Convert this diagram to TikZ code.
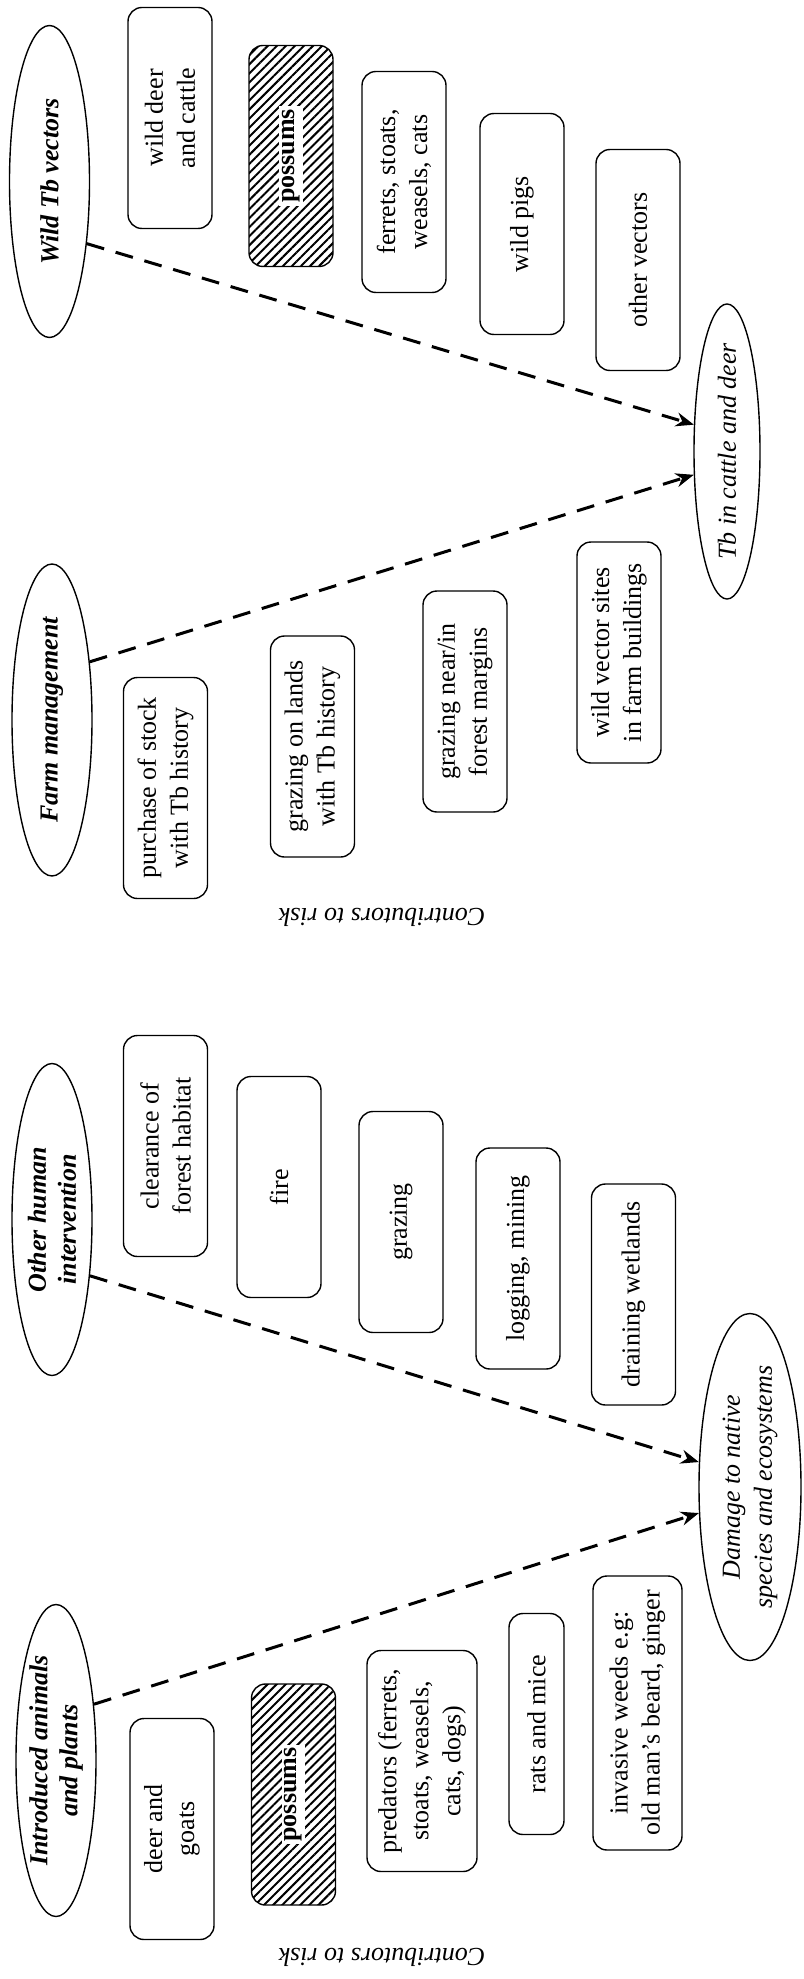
\documentclass[tikz,border=0pt]{standalone}
\usepackage{fontspec}
\setmainfont{Liberation Serif}
\usepackage{tikz}
\usetikzlibrary{shapes,arrows.meta,patterns.meta,positioning}
\setlength{\fboxsep}{1.5pt}

\begin{document}
\begin{tikzpicture}[x=0.5pt, y=-0.5pt,
    factor/.style={draw, line width=0.7pt, rounded corners=7pt, rotate=90,
        minimum width=110.5pt, minimum height=42pt, inner sep=2pt, align=center,
        font=\fontsize{13}{16}\selectfont},
    hatched/.style={factor, pattern={Lines[angle=45, distance=3.2pt, line width=1pt]}},
    cause/.style={draw, ellipse, line width=0.7pt, rotate=90, align=center,
        minimum width=156pt, minimum height=40pt, inner sep=0pt,
        font=\fontsize{13}{15}\selectfont\bfseries\itshape},
    effect/.style={cause, inner sep=-2pt, font=\fontsize{13}{16}\selectfont\itshape},
    risk/.style={-{Stealth[length=9pt, width=7pt]}, line width=1.5pt, dash pattern=on 9pt off 6pt},
    note/.style={rotate=180, font=\fontsize{13}{16}\selectfont\itshape}]

    \useasboundingbox (0,0) rectangle (803,1979);

    % Tb in cattle and deer
    \node[cause] (wildtb) at (49.5,181.5) {Wild Tb vectors};
    \node[cause] (farm) at (52,720) {Farm management};
    \node[effect, minimum width=143.5pt, minimum height=33pt] (tbcattle) at (727,451.5) {Tb in cattle and deer};

    \node[factor] (deercattle) at (170,118) {wild deer\\and cattle};
    \node[hatched] (possumsA) at (291,156) {\colorbox{white}{\bfseries possums}};
    \node[factor] (ferrets) at (404,182) {ferrets, stoats,\\weasels, cats};
    \node[factor] (pigs) at (522,224) {wild pigs};
    \node[factor] (othervec) at (638,260) {other vectors};

    \node[factor] (purchase) at (165.5,788) {purchase of stock\\with Tb history};
    \node[factor] (grazelands) at (312.5,746.5) {grazing on lands\\with Tb history};
    \node[factor] (grazenear) at (465,701.5) {grazing near/in\\forest margins};
    \node[factor] (vecsites) at (619,652.5) {wild vector sites\\in farm buildings};

    \node[note] (contribA) at (382,917) {Contributors to risk};

    \draw[risk] (wildtb.-149) -- (tbcattle.51);
    \draw[risk] (farm.-33.5) -- (tbcattle.125.5);

    % Damage to native species
    \node[cause] (other) at (52,1219.5) {Other human\\intervention};
    \node[cause] (introduced) at (56,1760.5) {Introduced animals\\and plants};
    \node[effect, minimum width=173.5pt, minimum height=51pt] (damage) at (750,1487) {Damage to native\\species and ecosystems};

    \node[factor] (clearance) at (165.5,1146) {clearance of\\forest habitat};
    \node[factor] (fire) at (279,1187) {fire};
    \node[factor] (grazing) at (401,1222) {grazing};
    \node[factor] (logging) at (518,1258.5) {logging, mining};
    \node[factor] (draining) at (633.5,1294.5) {draining wetlands};

    \node[factor] (deergoats) at (172,1829) {deer and\\goats};
    \node[hatched] (possumsB) at (293.5,1794.5) {\colorbox{white}{\bfseries possums}};
    \node[factor, minimum height=55pt] (predators) at (422,1761) {predators (ferrets,\\stoats, weasels,\\cats, dogs)};
    \node[factor, minimum height=27.5pt] (rats) at (536.5,1724) {rats and mice};
    \node[factor, minimum width=137pt, minimum height=44.5pt] (weeds) at (637.5,1713) {invasive weeds e.g:\\old man’s beard, ginger};

    \node[note] (contribB) at (382,1957) {Contributors to risk};

    \draw[risk] (other.-146.5) -- (damage.64.7);
    \draw[risk] (introduced.-34) -- (damage.117);
\end{tikzpicture}
\end{document}
